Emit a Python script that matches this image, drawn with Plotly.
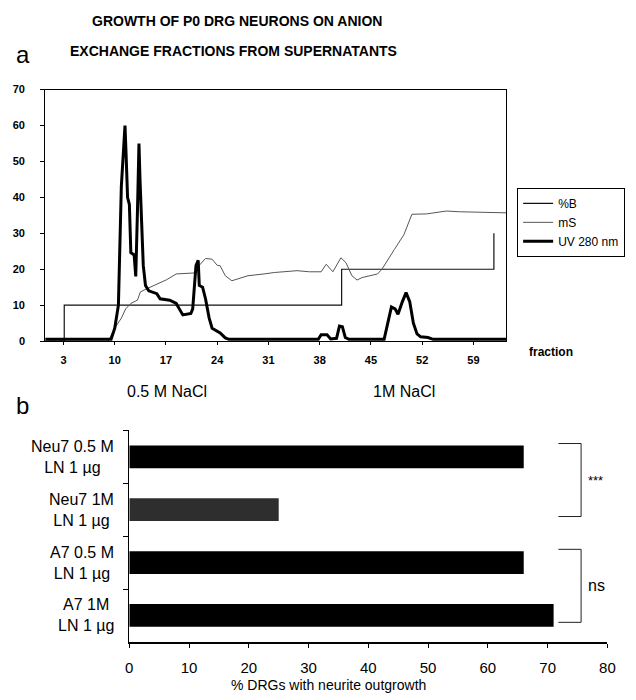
import plotly.graph_objects as go

# ---------------- Panel a data (fraction, value) ----------------
pctB_x = [0.5, 3.1, 3.1, 41.0, 41.0, 61.8, 61.8]
pctB_y = [0, 0, 10, 10, 20, 20, 30]

mS_x = [0.5, 9.1, 10.0, 10.9, 11.5, 12.2, 13.1, 13.5, 14.4, 15.8, 17.1, 18.4, 19.8, 21.1,
        21.5, 22.4, 23.3, 24.0, 24.4, 25.1, 26.0, 26.9, 28.2, 30.4, 31.8, 34.9, 36.6, 38.2,
        38.9, 39.8, 40.9, 41.6, 42.4, 43.1, 43.8, 45.9, 46.5, 48.2, 49.5, 50.6, 52.6, 55.3,
        57.1, 63.5]
mS_y = [0, 0, 3.6, 6.4, 9, 10.5, 11.4, 13.7, 14.6, 16, 17.1, 18.7, 18.9, 19,
        21, 23, 22.8, 21.1, 21, 18.2, 16.8, 17.3, 18.2, 18.7, 19.1, 19.6, 19.3, 19.3,
        21.4, 19.3, 23.2, 21.8, 18.2, 17, 17.7, 18.7, 20, 25.5, 29.6, 35.3, 35.4, 36.2,
        36, 35.7]

uv_x = [0.5, 9.5, 10.0, 10.5, 10.9, 11.4, 11.55, 11.75, 12.0, 12.2, 12.65, 12.87, 13.1,
        13.31, 13.45, 13.62, 13.9, 14.2, 14.65, 15.75, 16.2, 17.5, 18.4, 18.9, 19.3, 20.4,
        20.65, 21.1, 21.4, 21.55, 22.0, 22.4, 22.9, 23.3, 24.0, 24.4, 25.1, 25.6, 37.8,
        38.2, 39.0, 39.5, 40.3, 40.7, 41.1, 41.5, 42.0, 46.8, 47.3, 47.8, 48.3, 48.7, 49.3,
        49.8, 50.3, 50.8, 51.3, 51.8, 52.8, 53.5, 63.5]
uv_y = [0.5, 0.5, 3.6, 10, 43, 60, 52, 40, 38, 24.6, 24, 18, 36,
        55, 45, 33.7, 21, 15.5, 14, 13.2, 11.8, 11.4, 10.5, 8.7, 7.3, 7.7,
        9, 21, 22.5, 15.5, 15, 11.8, 6.4, 3.6, 2.7, 2.3, 0.9, 0.5, 0.5,
        1.8, 1.8, 0.6, 0.8, 4.2, 4.0, 1.0, 0.5, 0.5, 5, 9.5, 9, 7.5, 11,
        13.5, 11, 5, 2, 1.2, 1.0, 0.5, 0.5]

frac_ticks = [3, 10, 17, 24, 31, 38, 45, 52, 59]
y_ticks_a = [0, 10, 20, 30, 40, 50, 60, 70]

# ---------------- Panel b data ----------------
groups = ["Neu7 0.5 M", "Neu7 1M", "A7 0.5 M", "A7 1M"]
group_labels = ["Neu7 0.5 M<br>LN 1 µg", "Neu7 1M<br>LN 1 µg",
                "A7 0.5 M<br>LN 1 µg", "A7 1M<br>LN 1 µg"]
outgrowth = [66, 25, 66, 71]
bar_colors = ["#000000", "#2e2e2e", "#000000", "#000000"]
comparisons = [(0, 1, "***"), (2, 3, "ns")]
x_ticks_b = [0, 10, 20, 30, 40, 50, 60, 70, 80]

FONT = "Liberation Sans, Arial, sans-serif"
W, H = 636, 700


def px(x):
    return x / W


def py(y):
    return 1 - y / H


def label(text, x, y, size, bold=False, **kw):
    f = dict(family=FONT, size=size, color="black")
    if bold:
        f["weight"] = "bold"
    d = dict(text=text, x=px(x), y=py(y), xref="paper", yref="paper",
             xanchor="center", yanchor="middle", showarrow=False, font=f)
    d.update(kw)
    return d


fig = go.Figure()

fig.add_trace(go.Scatter(x=pctB_x, y=pctB_y, mode="lines", name="%B",
                         line=dict(color="#111111", width=1.2), xaxis="x", yaxis="y"))
fig.add_trace(go.Scatter(x=mS_x, y=mS_y, mode="lines", name="mS",
                         line=dict(color="#555555", width=1), xaxis="x", yaxis="y"))
fig.add_trace(go.Scatter(x=uv_x, y=uv_y, mode="lines", name="UV 280 nm",
                         line=dict(color="#000000", width=3), xaxis="x", yaxis="y"))

fig.add_trace(go.Bar(x=outgrowth, y=groups, orientation="h", width=0.43,
                     marker=dict(color=bar_colors, line=dict(width=0)),
                     showlegend=False, xaxis="x2", yaxis="y2"))

annotations = [
    label("GROWTH OF P0 DRG NEURONS ON ANION", 237, 15, 14, bold=True),
    label("EXCHANGE FRACTIONS FROM SUPERNATANTS", 234, 46, 14, bold=True),
    label("a", 19, 49, 24),
    label("b", 19, 406, 24),
    label("fraction", 558, 352, 12, bold=True),
    label("0.5 M NaCl", 166, 392, 16),
    label("1M NaCl", 408, 392, 16),
    label("% DRGs with neurite outgrowth", 331, 691, 14),
]
for i, lab in enumerate(group_labels):
    annotations.append(dict(text=lab, x=px(114), y=i, xref="paper", yref="y2",
                            xanchor="right", yanchor="middle", align="center",
                            showarrow=False,
                            font=dict(family=FONT, size=16, color="black")))

shapes = []
for (a, b, lab) in comparisons:
    y0, y1 = a - 0.25, b + 0.13
    shapes.append(dict(type="path", xref="x2", yref="y2",
                       path=f"M 71.8 {y0} L 75.6 {y0} L 75.6 {y1} L 71.8 {y1}",
                       line=dict(color="#222222", width=1)))
    annotations.append(dict(text=lab, x=76.5, y=(y0 + y1) / 2, xref="x2", yref="y2",
                            xanchor="left", yanchor="middle", showarrow=False,
                            font=dict(family=FONT, size=13 if lab == "***" else 16,
                                      color="black")))

fig.update_layout(
    width=W, height=H, margin=dict(l=0, r=0, t=0, b=0),
    paper_bgcolor="white", plot_bgcolor="white",
    font=dict(family=FONT, color="black"),
    showlegend=True,
    legend=dict(x=px(523), y=py(185), xanchor="left", yanchor="top",
                bordercolor="black", borderwidth=1, bgcolor="white",
                font=dict(family=FONT, size=12, color="black"),
                itemwidth=30, tracegroupgap=0),
    xaxis=dict(domain=[px(42), px(512)], range=[0.5, 63.5], tickvals=frac_ticks,
               showline=True, mirror=True, linecolor="black", linewidth=1,
               ticks="outside", ticklen=3, tickcolor="black", ticklabelstandoff=6,
               showgrid=False, zeroline=False, anchor="y",
               tickfont=dict(family=FONT, size=11, color="black", weight="bold")),
    yaxis=dict(domain=[py(341), py(85)], range=[0, 70], tickvals=y_ticks_a,
               showline=True, mirror=True, linecolor="black", linewidth=1,
               ticks="outside", ticklen=4, tickcolor="black", ticklabelstandoff=13,
               showgrid=False, zeroline=False, anchor="x",
               tickfont=dict(family=FONT, size=11, color="black", weight="bold")),
    xaxis2=dict(domain=[px(127.7), px(615)], range=[0, 80], tickvals=x_ticks_b,
                showline=True, linecolor="black", linewidth=1.5,
                ticks="outside", ticklen=4, tickcolor="black", ticklabelstandoff=7,
                showgrid=False, zeroline=False, anchor="y2",
                tickfont=dict(family=FONT, size=15, color="black")),
    yaxis2=dict(domain=[py(647), py(431.7)], type="category", range=[3.5, -0.5],
                categoryorder="array", categoryarray=groups,
                showline=True, linecolor="black", linewidth=1,
                ticks="outside", ticklen=5, tickcolor="black", tickson="boundaries",
                showticklabels=False, showgrid=False, zeroline=False, anchor="x2"),
    annotations=annotations,
    shapes=shapes,
)

fig.write_html("out.html")
